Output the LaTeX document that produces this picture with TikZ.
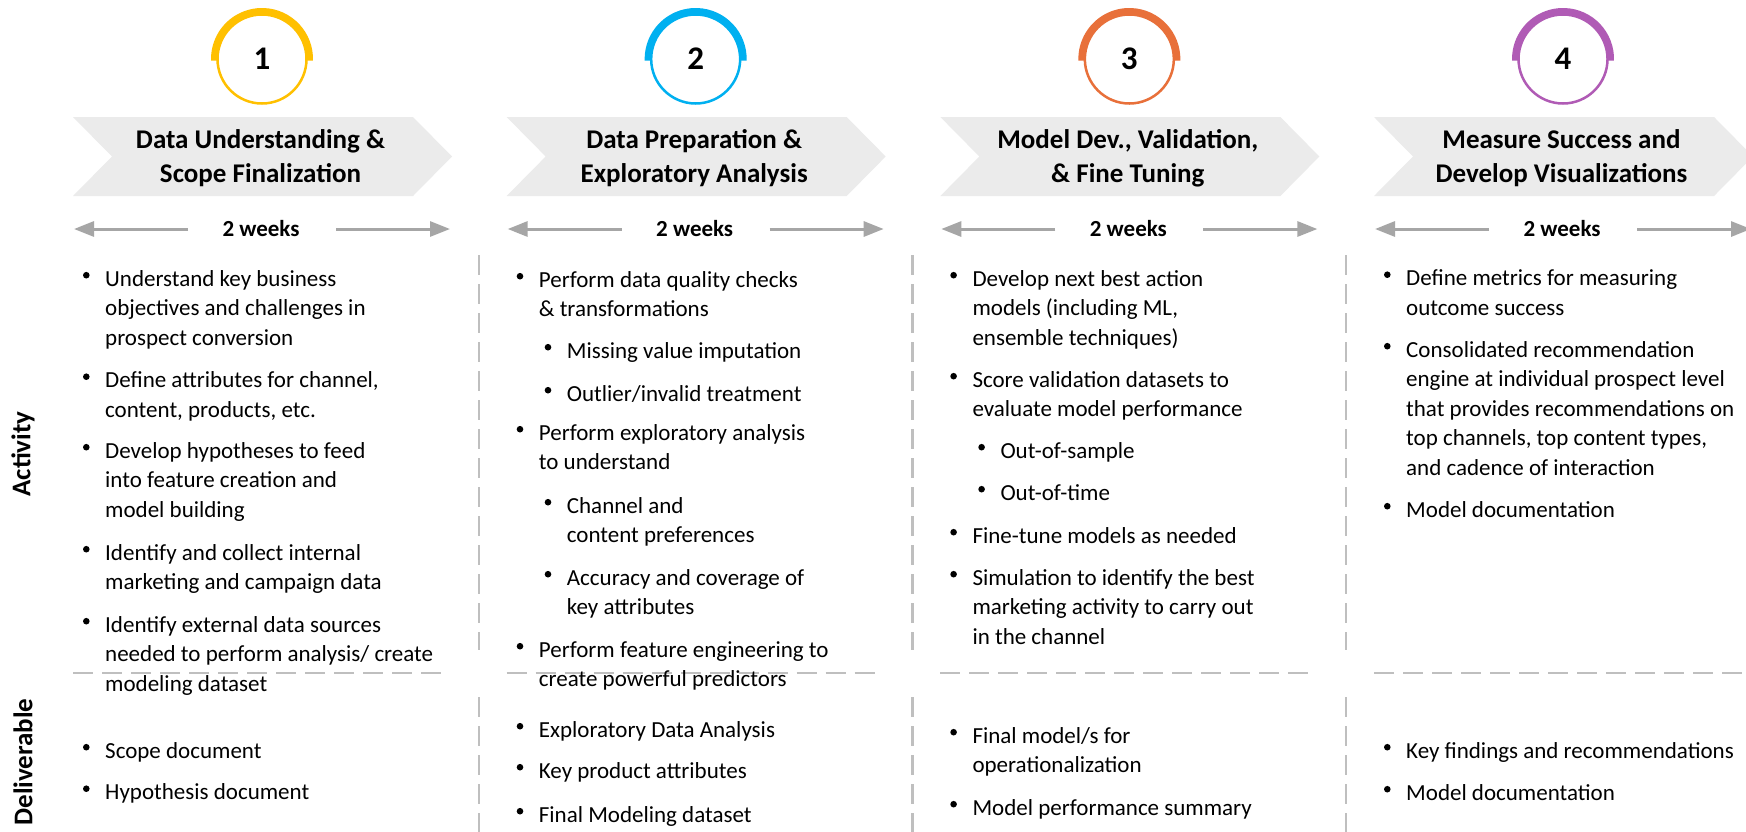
\documentclass[tikz,border=0pt]{standalone}
\usepackage{fontspec}
\setmainfont{Carlito}
\usetikzlibrary{arrows.meta,calc}

\definecolor{ph1}{HTML}{FFC000}
\definecolor{ph2}{HTML}{00B0F0}
\definecolor{ph3}{HTML}{E8703A}
\definecolor{ph4}{HTML}{B05BB5}
\definecolor{chev}{HTML}{EBEBEB}
\definecolor{wkgray}{HTML}{A6A6A6}
\definecolor{divgray}{HTML}{BFBFBF}

% one line of a bullet text block
\newcommand\rowline[1]{\hbox{#1}}
% bullet item: name, x of text, first baseline, lines
\newcommand\bitem[4]{%
  \node[itemtext] (#1) at (#2,#3) {\vtop{#4}};
  \fill ($(#1.base west)+(-18.7pt,10.8pt)$) circle (3.3pt);
}

\begin{document}
\begin{tikzpicture}[x=1pt,y=-1pt,
  itemtext/.style={anchor=base west, inner sep=0pt, font=\fontsize{23}{29.5}\selectfont},
  heading/.style={anchor=base, inner sep=0pt, font=\fontsize{27}{34}\selectfont\bfseries},
  weeks/.style={anchor=base, inner sep=0pt, font=\fontsize{23}{28}\selectfont\bfseries},
  rowlabel/.style={inner sep=0pt, rotate=90, font=\fontsize{27}{32}\selectfont\bfseries},
  numcircle/.style={circle, line width=2.5pt, minimum size=89pt, inner sep=0pt,
    font=\fontsize{33}{36}\selectfont\bfseries},
  wkarrow/.style={draw=wkgray, line width=3pt, -{Triangle[length=20pt,width=15pt]}},
  divline/.style={draw=divgray, line width=2.5pt, dash pattern=on 20pt off 9pt}]

\clip (0,0) rectangle (1746,831);
\fill[white] (0,0) rectangle (1746,831);

% phase headers: number ring, chevron, title, duration arrow
\foreach \i/\col/\num/\la/\lb in {%
    0/ph1/1/{Data Understanding \&}/{Scope Finalization},
    1/ph2/2/{Data Preparation \&}/{Exploratory Analysis},
    2/ph3/3/{Model Dev., Validation,}/{\& Fine Tuning},
    3/ph4/4/{Measure Success and}/{Develop Visualizations}}{
  \pgfmathsetmacro\L{73+433.67*\i}
  \node[numcircle, draw=\col] (circ\i) at (\L+189,59) {\num};
  \draw[\col, line width=6.5pt] ($(circ\i.center)+(-2:47.75pt)$)
    arc[start angle=-2, end angle=182, radius=47.75pt];
  \fill[chev] (\L,117) -- (\L+340,117) -- (\L+379,156.5) -- (\L+340,196)
    -- (\L,196) -- (\L+39,156.5) -- cycle;
  \node[heading] (hd\i) at (\L+187.5,148)
    {\begin{tabular}[t]{@{}c@{}}\la\\\lb\end{tabular}};
  \node[weeks] (wk\i) at (\L+188,236) {2 weeks};
  \coordinate (wla\i) at (\L+115,229);
  \coordinate (wlb\i) at (\L+1,229);
  \coordinate (wra\i) at (\L+263,229);
  \coordinate (wrb\i) at (\L+377,229);
  \draw[wkarrow] (wla\i) -- (wlb\i);
  \draw[wkarrow] (wra\i) -- (wrb\i);
}

% dividers between phases and between the two rows
\foreach \x in {479,912.5,1346}{
  \draw[divline] (\x,255) -- (\x,650);
  \draw[divline] (\x,697) -- (\x,850);
}
\foreach \i in {0,1,2}{
  \pgfmathsetmacro\L{73+433.67*\i}
  \draw[divline] (\L,673) -- (\L+372,673);
}
\draw[divline] (1374,673) -- (1770,673);

% row labels
\node[rowlabel] (lblact) at (23,454) {Activity};
\node[rowlabel] (lbldel) at (23,762) {Deliverable};

% phase 1
\bitem{a1}{105}{286}{\rowline{Understand key business}\rowline{objectives and challenges in}\rowline{prospect conversion}}
\bitem{a2}{105}{387.5}{\rowline{Define attributes for channel,}\rowline{content, products, etc.}}
\bitem{a3}{105}{458}{\rowline{Develop hypotheses to feed}\rowline{into feature creation and}\rowline{model building}}
\bitem{a4}{105}{560}{\rowline{Identify and collect internal}\rowline{marketing and campaign data}}
\bitem{a5}{105}{632}{\rowline{Identify external data sources}\rowline{needed to perform analysis/ create}\rowline{modeling dataset}}
\bitem{d1}{105}{758}{\rowline{Scope document}}
\bitem{d2}{105}{799.5}{\rowline{Hypothesis document}}

% phase 2
\bitem{b1}{538.7}{287}{\rowline{Perform data quality checks}\rowline{\& transformations}}
\bitem{b2}{566.7}{358}{\rowline{Missing value imputation}}
\bitem{b3}{566.7}{401}{\rowline{Outlier/invalid treatment}}
\bitem{b4}{538.7}{440}{\rowline{Perform exploratory analysis}\rowline{to understand}}
\bitem{b5}{566.7}{513}{\rowline{Channel and}\rowline{content preferences}}
\bitem{b6}{566.7}{585}{\rowline{Accuracy and coverage of}\rowline{key attributes}}
\bitem{b7}{538.7}{657}{\rowline{Perform feature engineering to}\rowline{create powerful predictors}}
\bitem{e1}{538.7}{737}{\rowline{Exploratory Data Analysis}}
\bitem{e2}{538.7}{778}{\rowline{Key product attributes}}
\bitem{e3}{538.7}{822}{\rowline{Final Modeling dataset}}

% phase 3
\bitem{c1}{972.3}{286}{\rowline{Develop next best action}\rowline{models (including ML,}\rowline{ensemble techniques)}}
\bitem{c2}{972.3}{387}{\rowline{Score validation datasets to}\rowline{evaluate model performance}}
\bitem{c3}{1000.3}{458}{\rowline{Out-of-sample}}
\bitem{c4}{1000.3}{500}{\rowline{Out-of-time}}
\bitem{c5}{972.3}{543}{\rowline{Fine-tune models as needed}}
\bitem{c6}{972.3}{585}{\rowline{Simulation to identify the best}\rowline{marketing activity to carry out}\rowline{in the channel}}
\bitem{f1}{972.3}{743}{\rowline{Final model/s for}\rowline{operationalization}}
\bitem{f2}{972.3}{815}{\rowline{Model performance summary}}

% phase 4
\bitem{g1}{1406}{285.5}{\rowline{Define metrics for measuring}\rowline{outcome success}}
\bitem{g2}{1406}{357}{\rowline{Consolidated recommendation}\rowline{engine at individual prospect level}\rowline{that provides recommendations on}\rowline{top channels, top content types,}\rowline{and cadence of interaction}}
\bitem{g3}{1406}{517}{\rowline{Model documentation}}
\bitem{h1}{1406}{758}{\rowline{Key findings and recommendations}}
\bitem{h2}{1406}{800}{\rowline{Model documentation}}

\end{tikzpicture}
\end{document}
